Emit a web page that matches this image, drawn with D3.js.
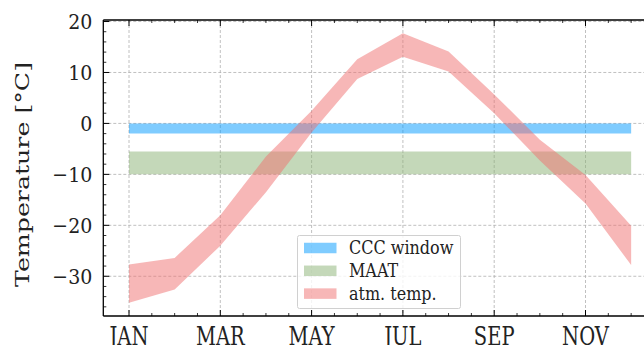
<!DOCTYPE html>
<html><head><meta charset="utf-8">
<script src="https://cdn.jsdelivr.net/npm/d3@7"></script>
<style>body{margin:0;background:#fff;} svg{display:block;}</style>
</head><body>
<svg id="c" width="644" height="345"></svg>
<script>
const months = [1,2,3,4,5,6,7,8,9,10,11,12];
const atmUpper = [-27.7,-26.4,-18,-6.5,2.5,12.6,17.7,14.1,5.7,-3.2,-10.1,-20.1];
const atmLower = [-35.2,-32.6,-24,-13.5,-1.8,8.7,13.1,10.2,2.0,-7.3,-15.7,-27.8];
const cccWindow = [-2, 0];
const maat = [-10, -5.5];
const xTickVals = [1,3,5,7,9,11];
const xTickLabels = ["JAN","MAR","MAY","JUL","SEP","NOV"];
const yTickVals = [-30,-20,-10,0,10,20];
const legendLabels = ["CCC window","MAAT","atm. temp."];

const svg = d3.select("#c");
const L=103.3, T=20, B=316;
const x = d3.scaleLinear().domain([0.437,12.563]).range([L, L+12.126*45.65]);
const y = d3.scaleLinear().domain([-37.8,20.3]).range([B,T]);
const font = "'DejaVu Serif', serif";

// grid
const g = svg.append("g");
xTickVals.forEach(v=>g.append("line").attr("x1",x(v)).attr("x2",x(v)).attr("y1",T).attr("y2",B)
  .attr("stroke","#b0b0b0").attr("stroke-width",0.8).attr("stroke-dasharray","3,2"));
yTickVals.forEach(v=>g.append("line").attr("x1",L).attr("x2",660).attr("y1",y(v)).attr("y2",y(v))
  .attr("stroke","#b0b0b0").attr("stroke-width",0.8).attr("stroke-dasharray","3,2"));

// bands
const area = d3.area().x(d=>x(d.m)).y0(d=>y(d.lo)).y1(d=>y(d.hi));
svg.append("path").datum(months.map(m=>({m,lo:cccWindow[0],hi:cccWindow[1]})))
  .attr("d",area).attr("fill","#0099ff").attr("fill-opacity",0.5);
svg.append("path").datum(months.map(m=>({m,lo:maat[0],hi:maat[1]})))
  .attr("d",area).attr("fill","#8ab173").attr("fill-opacity",0.5);
svg.append("path").datum(months.map((m,i)=>({m,lo:atmLower[i],hi:atmUpper[i]})))
  .attr("d",area).attr("fill","#f07070").attr("fill-opacity",0.5);

// axes
const fmt = d=> d<0 ? "\u2212"+Math.abs(d) : String(d);
const ax = svg.append("g");
ax.append("line").attr("x1",L).attr("x2",L).attr("y1",T).attr("y2",B).attr("stroke","#000").attr("stroke-width",1.3);
ax.append("line").attr("x1",L).attr("x2",660).attr("y1",B).attr("y2",B).attr("stroke","#000").attr("stroke-width",1.3);
ax.append("line").attr("x1",L).attr("x2",660).attr("y1",T).attr("y2",T).attr("stroke","#000").attr("stroke-width",1.3);

// y ticks
const yMinor = d3.range(-36,21,2).filter(v=>!yTickVals.includes(v));
yTickVals.forEach(v=>{
  ax.append("line").attr("x1",L).attr("x2",L+6).attr("y1",y(v)).attr("y2",y(v)).attr("stroke","#000").attr("stroke-width",1);
  ax.append("text").attr("transform",`translate(${L-11},${y(v)}) scale(1,1.12)`).attr("dy","0.36em").attr("text-anchor","end")
    .attr("font-family",font).attr("font-size",19).attr("fill","#222").text(fmt(v));
});
yMinor.forEach(v=>ax.append("line").attr("x1",L).attr("x2",L+3).attr("y1",y(v)).attr("y2",y(v)).attr("stroke","#000").attr("stroke-width",0.8));

// x ticks
const xMinor = d3.range(1,13,0.5).filter(v=>!xTickVals.includes(v));
xTickVals.forEach((v,i)=>{
  [[B,B-6],[T,T+6]].forEach(([a,b])=>ax.append("line").attr("x1",x(v)).attr("x2",x(v)).attr("y1",a).attr("y2",b).attr("stroke","#000").attr("stroke-width",1));
  ax.append("text").attr("transform",`translate(${x(v)},344.5) scale(1,1.3)`).attr("text-anchor","middle")
    .attr("font-family",font).attr("font-size",19.5).attr("fill","#222").text(xTickLabels[i]);
});
xMinor.forEach(v=>[[B,B-3],[T,T+3]].forEach(([a,b])=>ax.append("line").attr("x1",x(v)).attr("x2",x(v)).attr("y1",a).attr("y2",b).attr("stroke","#000").attr("stroke-width",0.8)));

// y label
svg.append("text").attr("transform","translate(28.6,174.5) rotate(-90)").attr("text-anchor","middle")
  .attr("font-family",font).attr("font-size",19).attr("fill","#222")
  .attr("textLength",225).attr("lengthAdjust","spacingAndGlyphs").text("Temperature [°C]");

// legend
const lg = svg.append("g");
lg.append("rect").attr("x",297.5).attr("y",235.5).attr("width",163).attr("height",73).attr("rx",2)
  .attr("fill","#fff").attr("fill-opacity",0.8).attr("stroke","#d0d0d0").attr("stroke-width",1);
const lcols = [["#0099ff",0.5],["#8ab173",0.5],["#f07070",0.5]];
legendLabels.forEach((t,i)=>{
  const cy = 248 + i*22.8;
  lg.append("rect").attr("x",304).attr("y",cy-5.25).attr("width",32.5).attr("height",10.5).attr("fill",lcols[i][0]).attr("fill-opacity",lcols[i][1]);
  lg.append("text").attr("transform",`translate(349,${cy}) scale(1,1.1)`).attr("dy","0.36em").attr("font-family",font).attr("font-size",16).attr("fill","#222").text(t);
});
</script>
</body></html>
